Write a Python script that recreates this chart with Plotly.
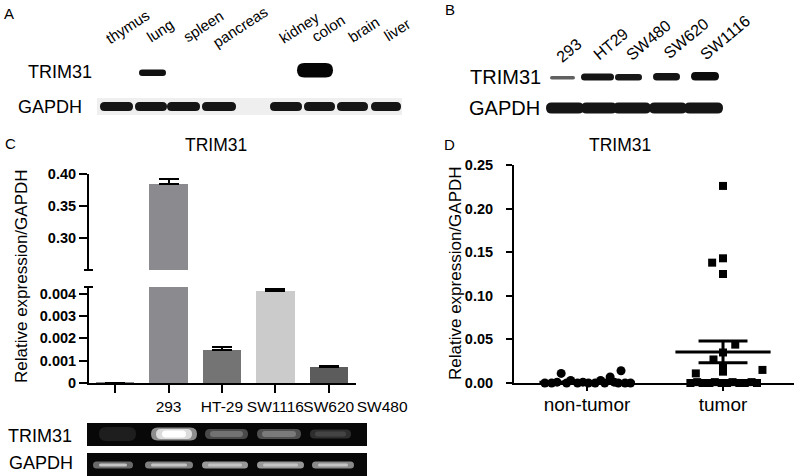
import plotly.graph_objects as go

W, H = 800, 476
FONT = "Liberation Sans, Arial, sans-serif"

# ---------------- Panel C data ----------------
bar_x = [0, 1, 2, 3, 4]
bar_values = [0.00002, 0.384, 0.0015, 0.0041, 0.00073]
bar_errors = [0.0, 0.008, 0.0001, 0.00013, 0.00003]
bar_colors = ["#8b8b8f", "#8b8b8f", "#747474", "#cbcbcb", "#5c5c5c"]
cell_labels = ["293", "HT-29", "SW1116", "SW620", "SW480"]
label_x = [1, 2, 3, 4, 5]
upper_ticks = [0.30, 0.35, 0.40]
upper_ticktext = ["0.30", "0.35", "0.40"]
lower_ticks = [0, 0.001, 0.002, 0.003, 0.004]
lower_ticktext = ["0", "0.001", "0.002", "0.003", "0.004"]

# ---------------- Panel D data ----------------
group_labels = ["non-tumor", "tumor"]
nontumor_offset = [-0.31, -0.26, -0.22, -0.19, -0.15, -0.12, -0.07, -0.03, 0.01,
                   0.06, 0.10, 0.13, 0.17, 0.20, 0.23, 0.25, 0.28, 0.32]
nontumor_values = [0.000, 0.000, 0.001, 0.011, 0.000, 0.003, 0.000, 0.001, 0.000,
                   0.000, 0.003, 0.000, 0.007, 0.001, 0.000, 0.014, 0.000, 0.000]
tumor_offset = [-0.24, -0.19, -0.15, -0.10, -0.06, -0.01, 0.03, 0.07, 0.12, 0.16, 0.21, 0.25,
                -0.20, -0.07, 0.0, 0.0, 0.0, 0.09, 0.29, -0.08, 0.0, 0.0, 0.0]
tumor_values = [0.000, 0.001, 0.000, 0.000, 0.001, 0.000, 0.000, 0.001, 0.000, 0.000, 0.001, 0.000,
                0.011, 0.027, 0.013, 0.018, 0.035, 0.044, 0.015, 0.138, 0.143, 0.125, 0.226]
group_mean = [0.001, 0.0356]
group_sem = [0.0006, 0.0125]
d_ticks = [0, 0.05, 0.10, 0.15, 0.20, 0.25]
d_ticktext = ["0.00", "0.05", "0.10", "0.15", "0.20", "0.25"]

# ---------------- Blot lane labels ----------------
tissue_labels = ["thymus", "lung", "spleen", "pancreas", "kidney", "colon", "brain", "liver"]
cellline_labels_b = ["293", "HT29", "SW480", "SW620", "SW1116"]


def X(px):
    return px / W


def Y(py):
    return 1 - py / H


def band_path(x0, x1, y0, y1):
    r = min((y1 - y0) / 2, (x1 - x0) / 2)
    ym = (y0 + y1) / 2
    return (f"M {X(x0 + r)},{Y(y0)} L {X(x1 - r)},{Y(y0)} "
            f"Q {X(x1)},{Y(y0)} {X(x1)},{Y(ym)} Q {X(x1)},{Y(y1)} {X(x1 - r)},{Y(y1)} "
            f"L {X(x0 + r)},{Y(y1)} Q {X(x0)},{Y(y1)} {X(x0)},{Y(ym)} "
            f"Q {X(x0)},{Y(y0)} {X(x0 + r)},{Y(y0)} Z")


shapes = []


def band(x0, x1, y0, y1, color, opacity=1.0):
    shapes.append(dict(type="path", xref="paper", yref="paper", path=band_path(x0, x1, y0, y1),
                       fillcolor=color, line=dict(width=0), opacity=opacity, layer="above"))


def rect(x0, x1, y0, y1, color):
    shapes.append(dict(type="rect", xref="paper", yref="paper", x0=X(x0), x1=X(x1),
                       y0=Y(y1), y1=Y(y0), fillcolor=color, line=dict(width=0), layer="above"))


def hline(x0, x1, y, width=2):
    shapes.append(dict(type="line", xref="paper", yref="paper", x0=X(x0), x1=X(x1),
                       y0=Y(y), y1=Y(y), line=dict(color="black", width=width), layer="above"))


# ---------------- Panel A blot ----------------
rect(97, 402, 98, 115, "#efefef")
for (a, b) in [(100, 133), (135, 167), (167, 200), (202, 236), (270, 302), (304, 335), (337, 368), (371, 401)]:
    band(a, b, 102, 111, "#151515")
band(139, 166, 69.5, 76, "#111111")
band(297, 333, 63, 77.5, "#050505")

# ---------------- Panel B blot ----------------
band(550, 575, 76, 79.5, "#444444", 0.85)
band(581, 614, 73.5, 80.5, "#151515")
band(615, 642, 74, 80.5, "#181818")
band(653, 680, 73, 80.5, "#151515")
band(691, 719, 72, 80.5, "#0c0c0c")
for (a, b) in [(546, 584), (581, 617), (613, 651), (649, 687), (684, 723)]:
    band(a, b, 102.5, 113.5, "#151515")

# ---------------- Panel C gel ----------------
rect(87, 367, 423, 446, "#080808")
rect(87, 367, 453, 476, "#080808")
band(99, 136, 427, 441, "#1e1e1e")
band(151, 197, 427.5, 440.5, "#8e8e8e")
band(156, 192, 429, 439, "#dcdcdc")
band(162, 186, 430.5, 437.5, "#ffffff")
band(205, 248, 429, 439, "#4a4a4a")
band(210, 243, 431, 437, "#727272")
band(257, 301, 429, 439, "#505050")
band(262, 296, 431, 437, "#7a7a7a")
band(310, 351, 429.5, 438.5, "#2e2e2e")
band(315, 346, 431.5, 436.5, "#444444")
for (a, b, c) in [(93, 133, "#6a6a6a"), (145, 193, "#808080"), (202, 248, "#989898"),
                  (257, 304, "#989898"), (312, 354, "#8a8a8a")]:
    band(a, b, 461.5, 468.5, c)
    band(a + 6, b - 6, 463.5, 466.5, "#c4c4c4")

# C panel axis break caps
hline(84, 93, 270)
hline(84, 93, 287)

fig = go.Figure()

# Panel C bars: upper (broken) part and lower part
for xa, ya in [("x", "y"), ("x2", "y2")]:
    fig.add_trace(go.Bar(
        x=bar_x, y=bar_values, width=0.72, xaxis=xa, yaxis=ya,
        marker=dict(color=bar_colors, line=dict(width=0)),
        error_y=dict(type="data", symmetric=False, array=bar_errors,
                     arrayminus=[0] * len(bar_errors), color="black", thickness=2, width=10),
        showlegend=False, hoverinfo="skip"))

# invisible trace carrying the cell-line label axis (same scale as x2, one slot wider)
fig.add_trace(go.Scatter(x=label_x, y=[None] * len(label_x), xaxis="x4", yaxis="y2",
                         mode="markers", showlegend=False, hoverinfo="skip"))

# Panel D scatter
fig.add_trace(go.Scatter(
    x=[0 + o for o in nontumor_offset], y=nontumor_values, mode="markers",
    marker=dict(symbol="circle", size=9, color="black"), xaxis="x3", yaxis="y3",
    cliponaxis=False, showlegend=False, hoverinfo="skip"))
fig.add_trace(go.Scatter(
    x=[1 + o for o in tumor_offset], y=tumor_values, mode="markers",
    marker=dict(symbol="square", size=8, color="black"), xaxis="x3", yaxis="y3",
    cliponaxis=False, showlegend=False, hoverinfo="skip"))

# Mean and SEM lines
for gi, (m, s) in enumerate(zip(group_mean, group_sem)):
    fig.add_trace(go.Scatter(x=[gi - 0.35, gi + 0.35], y=[m, m], mode="lines",
                             line=dict(color="black", width=3), xaxis="x3", yaxis="y3",
                             cliponaxis=False, showlegend=False, hoverinfo="skip"))
    for v in (m - s, m + s):
        fig.add_trace(go.Scatter(x=[gi - 0.18, gi + 0.18], y=[v, v], mode="lines",
                                 line=dict(color="black", width=3), xaxis="x3", yaxis="y3",
                                 cliponaxis=False, showlegend=False, hoverinfo="skip"))
    fig.add_trace(go.Scatter(x=[gi, gi], y=[m - s, m + s], mode="lines",
                             line=dict(color="black", width=3), xaxis="x3", yaxis="y3",
                             cliponaxis=False, showlegend=False, hoverinfo="skip"))

tickfont = dict(family=FONT, size=14.5, color="black", weight="bold")
axis_common = dict(showline=True, linecolor="black", linewidth=2, ticks="outside",
                   tickcolor="black", tickwidth=2, showgrid=False, zeroline=False,
                   automargin=False)

c_left, c_right = 89, 356
c_range = [-0.49, 4.51]
c_unit = (c_right - c_left) / (c_range[1] - c_range[0])
cx_dom = [X(c_left), X(c_right)]
lab_dom = [X(c_left), X(c_left + c_unit * (c_range[1] + 1 - c_range[0]))]

fig.update_layout(
    width=W, height=H, margin=dict(l=0, r=0, t=0, b=0, pad=0, autoexpand=False),
    paper_bgcolor="white", plot_bgcolor="rgba(0,0,0,0)", bargap=0,
    font=dict(family=FONT, color="black"),
    xaxis=dict(domain=cx_dom, range=c_range, visible=False, anchor="y"),
    yaxis=dict(domain=[Y(270), Y(174)], range=[0.25, 0.40], anchor="x",
               tickvals=upper_ticks, ticktext=upper_ticktext, ticklen=8, tickfont=tickfont,
               **axis_common),
    xaxis2=dict(domain=cx_dom, range=c_range, anchor="y2", tickvals=bar_x,
                showticklabels=False, ticklen=8, **axis_common),
    xaxis4=dict(domain=lab_dom, anchor="y2", side="bottom",
                range=[c_range[0], c_range[1] + 1], tickvals=label_x, ticktext=cell_labels,
                tickangle=0, showline=False, ticks="", showgrid=False, zeroline=False,
                automargin=False, ticklabelstandoff=12,
                tickfont=dict(family=FONT, size=15.5, color="black")),
    yaxis2=dict(domain=[Y(383), Y(287)], range=[0, 0.0043], anchor="x2",
                tickvals=lower_ticks, ticktext=lower_ticktext, ticklen=8, tickfont=tickfont,
                **axis_common),
    xaxis3=dict(domain=[X(514), X(794)], range=[-0.537, 1.522], anchor="y3",
                tickvals=[0, 1], ticktext=group_labels, ticklen=6, ticklabelstandoff=-3,
                tickfont=dict(family=FONT, size=19, color="black"), **axis_common),
    yaxis3=dict(domain=[Y(383), Y(165)], range=[0, 0.25], anchor="x3",
                tickvals=d_ticks, ticktext=d_ticktext, ticklen=6, ticklabelstandoff=10,
                tickfont=tickfont, **axis_common),
    shapes=shapes,
)

ann = []


def text(x, y, s, size, **kw):
    d = dict(x=X(x), y=Y(y), xref="paper", yref="paper", text=s, showarrow=False,
             xanchor="center", yanchor="middle", borderpad=0,
             font=dict(family=FONT, size=size, color="black"))
    d.update(kw)
    ann.append(d)


# Panel letters
text(9, 13, "A", 15)
text(450, 9, "B", 15)
text(10, 143, "C", 15)
text(449, 144, "D", 15)

# Panel A lane labels (centres of the rotated words)
a_pos = [(127.5, 26), (160, 30.5), (202.5, 26), (240.5, 26), (299, 27),
         (327.5, 28), (363.5, 29.5), (397, 29)]
for (px, py), s in zip(a_pos, tissue_labels):
    text(px, py, s, 15, textangle=-33)
text(60, 72, "TRIM31", 18)
text(50, 107.5, "GAPDH", 18)

# Panel B lane labels
b_pos = [(569, 51), (610, 44), (648, 40), (686, 38.5), (725.5, 38)]
for (px, py), s in zip(b_pos, cellline_labels_b):
    text(px, py, s, 16, textangle=-40)
text(506, 77, "TRIM31", 20)
text(504, 108.5, "GAPDH", 20)

# Panel C texts
text(216, 145, "TRIM31", 17.5)
text(21, 276, "Relative expression/GAPDH", 17, textangle=-90)
text(40, 436, "TRIM31", 18)
text(41, 463, "GAPDH", 18)

# Panel D texts
text(620, 145, "TRIM31", 17.5)
text(455, 273, "Relative expression/GAPDH", 17, textangle=-90)

fig.update_layout(annotations=ann)
fig.write_html("out.html", config={"displayModeBar": False},
               post_script="document.body.style.margin='0px';")
